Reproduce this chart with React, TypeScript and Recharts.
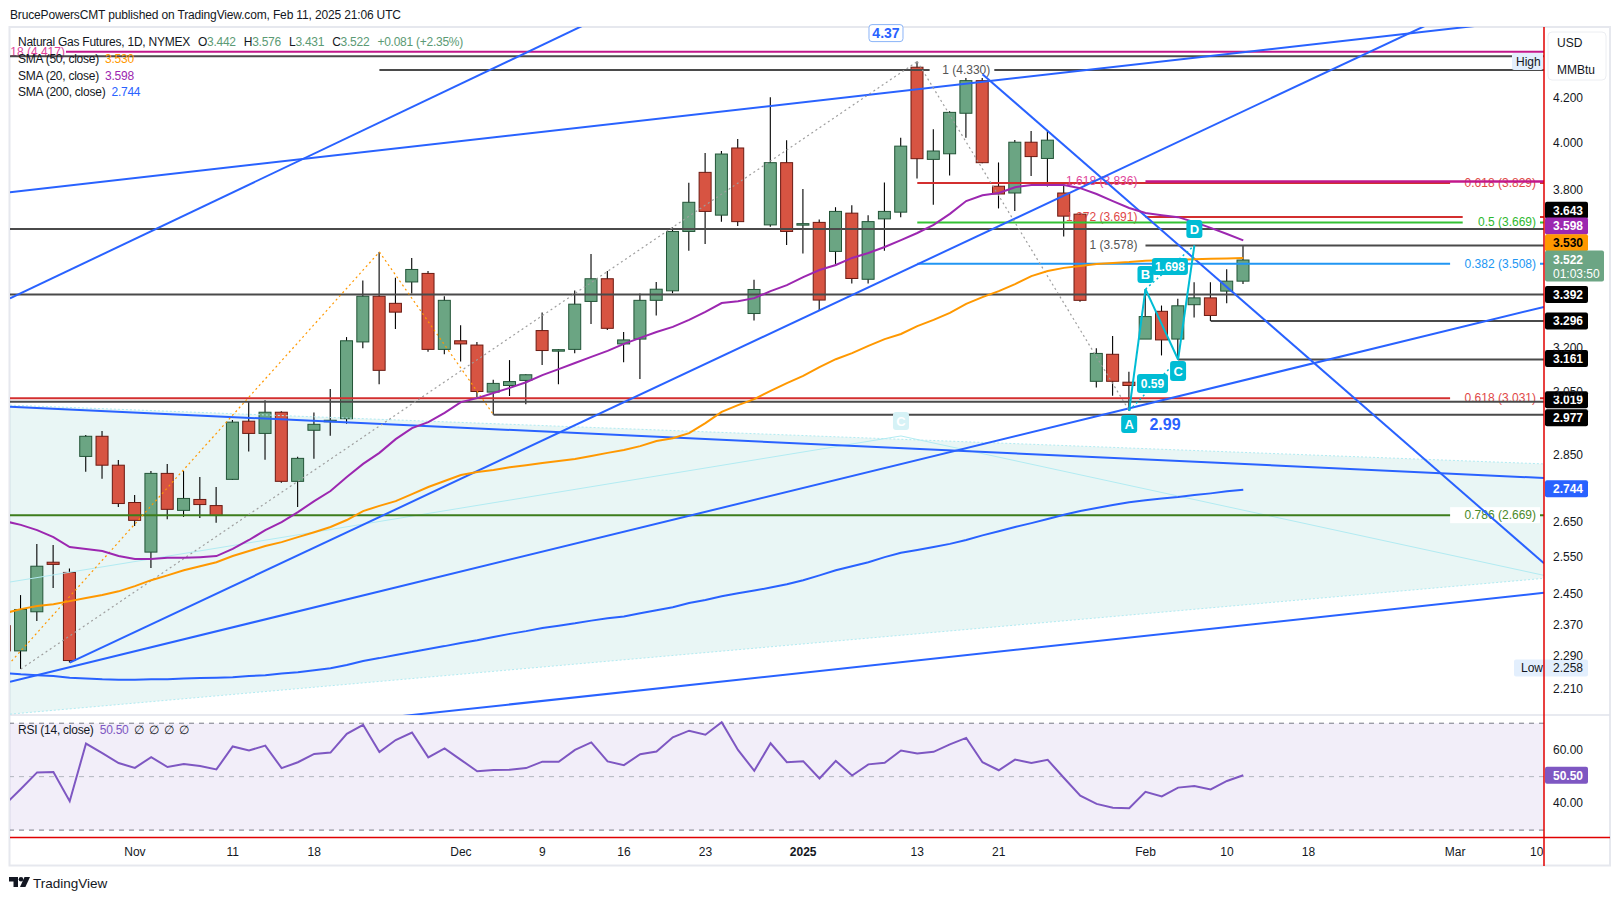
import React from "react";
import {
  ComposedChart,
  Bar,
  Line,
  Area,
  XAxis,
  YAxis,
  ReferenceLine,
  ReferenceDot,
  ReferenceArea,
} from "recharts";

const FONT = '"Liberation Sans", Arial, Helvetica, sans-serif';
const INK = "#131722";

// daily bars, trading days only
const DATES = [
  "2024-10-22", "2024-10-23", "2024-10-24", "2024-10-25", "2024-10-28", "2024-10-29", "2024-10-30", "2024-10-31",
  "2024-11-01", "2024-11-04", "2024-11-05", "2024-11-06", "2024-11-07", "2024-11-08", "2024-11-11", "2024-11-12",
  "2024-11-13", "2024-11-14", "2024-11-15", "2024-11-18", "2024-11-19", "2024-11-20", "2024-11-21", "2024-11-22",
  "2024-11-25", "2024-11-26", "2024-11-27", "2024-11-29", "2024-12-02", "2024-12-03", "2024-12-04", "2024-12-05",
  "2024-12-06", "2024-12-09", "2024-12-10", "2024-12-11", "2024-12-12", "2024-12-13", "2024-12-16", "2024-12-17",
  "2024-12-18", "2024-12-19", "2024-12-20", "2024-12-23", "2024-12-24", "2024-12-26", "2024-12-27", "2024-12-30",
  "2024-12-31", "2025-01-02", "2025-01-03", "2025-01-06", "2025-01-07", "2025-01-08", "2025-01-09", "2025-01-10",
  "2025-01-13", "2025-01-14", "2025-01-15", "2025-01-16", "2025-01-17", "2025-01-21", "2025-01-22", "2025-01-23",
  "2025-01-24", "2025-01-27", "2025-01-28", "2025-01-29", "2025-01-30", "2025-01-31", "2025-02-03", "2025-02-04",
  "2025-02-05", "2025-02-06", "2025-02-07", "2025-02-10", "2025-02-11",
];

const OPEN = [
  2.367, 2.303, 2.403, 2.536, 2.508, 2.845, 2.908, 2.818, 2.706, 2.564,
  2.793, 2.683, 2.715, 2.697, 2.775, 2.956, 2.917, 2.985, 2.769, 2.927,
  2.955, 2.964, 3.222, 3.386, 3.36, 3.439, 3.471, 3.196, 3.226, 3.211,
  3.051, 3.073, 3.09, 3.262, 3.193, 3.196, 3.367, 3.451, 3.215, 3.232,
  3.371, 3.406, 3.633, 3.874, 3.698, 3.978, 3.323, 3.659, 3.915, 3.658,
  3.669, 3.555, 3.706, 3.449, 3.683, 3.71, 4.343, 3.929, 3.953, 4.131,
  4.28, 3.816, 3.788, 4.003, 3.933, 3.788, 3.702, 3.087, 3.179, 3.084,
  3.232, 3.331, 3.232, 3.355, 3.38, 3.405, 3.442,
];
const HIGH = [
  2.4, 2.447, 2.587, 2.584, 2.519, 2.912, 2.925, 2.834, 2.728, 2.8,
  2.822, 2.8, 2.782, 2.752, 2.96, 3.018, 3.024, 2.988, 2.844, 2.984,
  3.061, 3.239, 3.444, 3.553, 3.455, 3.53, 3.48, 3.386, 3.281, 3.222,
  3.092, 3.159, 3.111, 3.327, 3.197, 3.407, 3.545, 3.48, 3.257, 3.396,
  3.439, 3.649, 3.83, 3.956, 3.965, 4.017, 3.447, 4.203, 4.012, 3.805,
  3.681, 3.73, 3.738, 3.698, 3.832, 4.022, 4.37, 4.06, 4.14, 4.328,
  4.31, 3.916, 4.013, 4.052, 4.052, 3.823, 3.705, 3.2, 3.243, 3.119,
  3.412, 3.352, 3.377, 3.438, 3.438, 3.487, 3.576,
];
const LOW = [
  2.28, 2.258, 2.379, 2.466, 2.274, 2.798, 2.777, 2.693, 2.638, 2.52,
  2.657, 2.664, 2.661, 2.647, 2.773, 2.86, 2.835, 2.765, 2.693, 2.838,
  2.91, 2.948, 3.2, 3.077, 3.268, 3.396, 3.188, 3.179, 3.154, 3.035,
  2.977, 3.038, 3.011, 3.142, 3.077, 3.183, 3.285, 3.264, 3.152, 3.095,
  3.316, 3.397, 3.558, 3.584, 3.672, 3.655, 3.298, 3.652, 3.58, 3.547,
  3.335, 3.507, 3.433, 3.433, 3.558, 3.69, 3.848, 3.74, 3.861, 4.022,
  3.913, 3.725, 3.715, 3.859, 3.815, 3.613, 3.366, 3.066, 3.039, 2.99,
  3.232, 3.175, 3.161, 3.309, 3.296, 3.36, 3.431,
];
const CLOSE = [
  2.303, 2.409, 2.525, 2.53, 2.279, 2.908, 2.818, 2.703, 2.654, 2.793,
  2.686, 2.718, 2.7, 2.668, 2.953, 2.917, 2.985, 2.769, 2.839, 2.946,
  2.959, 3.226, 3.386, 3.124, 3.328, 3.486, 3.196, 3.371, 3.215, 3.053,
  3.08, 3.086, 3.109, 3.192, 3.195, 3.357, 3.451, 3.27, 3.229, 3.371,
  3.412, 3.633, 3.75, 3.713, 3.952, 3.672, 3.411, 3.915, 3.633, 3.664,
  3.372, 3.713, 3.452, 3.672, 3.713, 3.986, 3.932, 3.965, 4.135, 4.28,
  3.915, 3.784, 4.003, 3.941, 4.012, 3.694, 3.371, 3.182, 3.087, 3.073,
  3.312, 3.229, 3.351, 3.38, 3.316, 3.442, 3.522,
];
const SMA20 = [
  2.652, 2.641, 2.626, 2.606, 2.578, 2.573, 2.567, 2.553, 2.545, 2.545,
  2.548, 2.548, 2.55, 2.553, 2.573, 2.598, 2.626, 2.649, 2.678, 2.71,
  2.74, 2.782, 2.822, 2.856, 2.899, 2.934, 2.953, 2.983, 3.018, 3.031,
  3.048, 3.065, 3.084, 3.108, 3.128, 3.149, 3.17, 3.191, 3.215, 3.236,
  3.257, 3.275, 3.3, 3.329, 3.361, 3.368, 3.379, 3.405, 3.427, 3.457,
  3.484, 3.503, 3.53, 3.549, 3.572, 3.599, 3.627, 3.659, 3.703, 3.755,
  3.779, 3.788, 3.812, 3.821, 3.821, 3.821, 3.808, 3.784, 3.755, 3.727,
  3.707, 3.698, 3.69, 3.67, 3.647, 3.623, 3.598,
];
const SMA50 = [
  2.399, 2.41, 2.418, 2.423, 2.431, 2.439, 2.447, 2.457, 2.471, 2.487,
  2.5, 2.514, 2.525, 2.536, 2.553, 2.567, 2.581, 2.592, 2.606, 2.62,
  2.635, 2.655, 2.681, 2.696, 2.71, 2.731, 2.752, 2.77, 2.788, 2.797,
  2.803, 2.812, 2.818, 2.825, 2.831, 2.837, 2.846, 2.856, 2.865, 2.877,
  2.893, 2.902, 2.918, 2.95, 2.986, 3.008, 3.028, 3.055, 3.081, 3.105,
  3.135, 3.162, 3.183, 3.208, 3.232, 3.25, 3.278, 3.3, 3.325, 3.358,
  3.383, 3.405, 3.431, 3.461, 3.48, 3.492, 3.499, 3.507, 3.511, 3.514,
  3.519, 3.521, 3.523, 3.525, 3.527, 3.528, 3.53,
];
const SMA200 = [
  2.248, 2.245, 2.243, 2.241, 2.237, 2.235, 2.233, 2.232, 2.232, 2.233,
  2.233, 2.235, 2.236, 2.237, 2.238, 2.241, 2.243, 2.247, 2.25, 2.255,
  2.26, 2.268, 2.278, 2.285, 2.293, 2.3, 2.308, 2.315, 2.323, 2.33,
  2.338, 2.346, 2.353, 2.361, 2.367, 2.373, 2.38, 2.386, 2.391, 2.399,
  2.407, 2.415, 2.426, 2.434, 2.444, 2.452, 2.459, 2.467, 2.476, 2.487,
  2.5, 2.514, 2.525, 2.536, 2.55, 2.562, 2.57, 2.578, 2.587, 2.598,
  2.611, 2.623, 2.635, 2.646, 2.658, 2.67, 2.681, 2.69, 2.699, 2.707,
  2.713, 2.718, 2.722, 2.728, 2.733, 2.739, 2.744,
];
const RSI = [
  39.4, 45.4, 51.6, 51.7, 40.8, 62.4, 58.8, 55.1, 53.3, 57.3,
  53.6, 54.7, 54.0, 52.7, 61.3, 59.8, 61.6, 53.2, 55.4, 58.5,
  59.0, 66.0, 69.4, 59.2, 63.7, 66.5, 57.2, 60.6, 56.3, 52.0,
  52.5, 52.6, 53.2, 55.6, 55.6, 60.0, 62.8, 55.7, 54.3, 58.4,
  59.4, 64.7, 67.2, 65.7, 70.4, 60.0, 52.2, 62.5, 55.4, 55.8,
  49.3, 55.9, 50.4, 54.6, 55.2, 59.8, 58.7, 59.3, 62.1, 64.5,
  55.4, 52.4, 56.4, 55.1, 56.3, 49.5, 42.9, 39.8, 38.4, 38.2,
  44.3, 42.6, 45.9, 46.5, 45.2, 48.4, 50.5,
];

const X_TICKS = [8, 14, 19, 28, 33, 38, 43, 49, 56, 61, 70, 75, 80, 89, 94];
const X_LABELS = ["Nov", "11", "18", "Dec", "9", "16", "23", "2025", "13", "21", "Feb", "10", "18", "Mar", "10"];
const PRICE_TICKS = [2.21, 2.29, 2.37, 2.45, 2.55, 2.65, 2.85, 3.05, 3.2, 3.8, 4.0, 4.2];
const RSI_TICKS = [40, 60];

// visible window (bar index) and price range of the main pane
const X_MIN = 0.337;
const X_MAX = 94.45;
const P_MIN = 2.148;
const P_MAX = 4.537;
const PLOT_LEFT = 10;

// triangle shading edges: [x, low, high]
const SHADE_X = [X_MIN, X_MAX];
const SHADE_LOW = [2.15, 2.492];
const SHADE_HIGH = [3.008, 2.822];

const candles = DATES.map((d, i) => ({
  i,
  date: d,
  open: OPEN[i],
  high: HIGH[i],
  low: LOW[i],
  close: CLOSE[i],
  range: [LOW[i], HIGH[i]],
  sma20: SMA20[i],
  sma50: SMA50[i],
  sma200: SMA200[i],
}));
const rsiData = DATES.map((d, i) => ({ i, date: d, rsi: RSI[i] }));
const shade = SHADE_X.map((x, k) => ({ i: x, band: [SHADE_LOW[k], SHADE_HIGH[k]] }));

const UP_FILL = "#6ba583";
const UP_EDGE = "#225437";
const DN_FILL = "#d75442";
const DN_EDGE = "#6b1a12";
const TREND = "#2962ff";
const DARK = "#4a4a4a";
const RED = "#d32f2f";
const MAGENTA = "#c2188b";
const CYAN = "#00bcd4";

// blue trend lines [x1, p1, x2, p2]
const TRENDS = [
  [X_MIN, 3.791, X_MAX, 4.581],
  [X_MIN, 3.378, 36.53, 4.584],
  [4, 2.274, X_MAX, 4.827],
  [X_MIN, 2.227, X_MAX, 3.347],
  [18.13, 2.12, X_MAX, 2.453],
  [60, 4.31, X_MAX, 2.533],
  [X_MIN, 3.003, X_MAX, 2.779],
];

const LEVELS = [
  { p: 4.417, from: 3.77, color: MAGENTA, w: 2, text: "1.618 (4.417)", tc: "#e0449a", pos: "before", gap: 1 },
  { p: 4.395, from: X_MIN, color: DARK, w: 2 },
  { p: 4.33, from: 23, color: DARK, w: 2, text: "1 (4.330)", tc: "#555", pos: "at", at: 58.74 },
  { p: 3.829, from: 56, color: RED, w: 2, text: "0.618 (3.829)", tc: "#e04848", pos: "right" },
  { p: 3.836, from: 70, color: MAGENTA, w: 2.5, text: "1.618 (3.836)", tc: "#e0449a", pos: "before", gap: 8 },
  { p: 3.691, from: 70, color: RED, w: 2, text: "1.272 (3.691)", tc: "#e04848", pos: "before", gap: 8 },
  { p: 3.669, from: 56, color: "#34c234", w: 2, text: "0.5 (3.669)", tc: "#2eb82e", pos: "right" },
  { p: 3.643, from: X_MIN, color: DARK, w: 2 },
  { p: 3.578, from: 70, color: DARK, w: 2, text: "1 (3.578)", tc: "#555", pos: "before", gap: 8 },
  { p: 3.508, from: 56, color: "#2196f3", w: 2, text: "0.382 (3.508)", tc: "#2196f3", pos: "right" },
  { p: 3.392, from: X_MIN, color: DARK, w: 2 },
  { p: 3.296, from: 74, color: DARK, w: 2 },
  { p: 3.161, from: 72, color: DARK, w: 2 },
  { p: 3.031, from: X_MIN, color: RED, w: 2, text: "0.618 (3.031)", tc: "#e04848", pos: "right" },
  { p: 3.019, from: X_MIN, color: DARK, w: 2 },
  { p: 2.977, from: 30, color: DARK, w: 2 },
  { p: 2.669, from: X_MIN, color: "#3d7d1c", w: 2, text: "0.786 (2.669)", tc: "#4a8a2a", pos: "right" },
];

const BADGES = [
  { p: 3.643, text: "3.643", bg: "#000", fg: "#fff", dy: -18.7 },
  { p: 3.598, text: "3.598", bg: "#9c27b0", fg: "#fff", dy: -14.4 },
  { p: 3.53, text: "3.530", bg: "#ff9800", fg: "#000", dy: -15.2 },
  { p: 3.392, text: "3.392", bg: "#000", fg: "#fff", dy: 0 },
  { p: 3.296, text: "3.296", bg: "#000", fg: "#fff", dy: 0 },
  { p: 3.161, text: "3.161", bg: "#000", fg: "#fff", dy: -1 },
  { p: 3.019, text: "3.019", bg: "#000", fg: "#fff", dy: -2 },
  { p: 2.977, text: "2.977", bg: "#000", fg: "#fff", dy: 3 },
  { p: 2.744, text: "2.744", bg: "#2962ff", fg: "#fff", dy: -1 },
];

const lbl = (render: (vb: any) => any) => (props: any) => render(props.viewBox || {});

function Candle(props: any) {
  const { x, y, width, height, payload } = props;
  if (!payload || x == null || y == null) return null;
  const top = Math.min(y, y + height);
  const bot = Math.max(y, y + height);
  const lh = Math.log(payload.high);
  const span = lh - Math.log(payload.low);
  const at = (p: number) => (span > 0 ? top + ((lh - Math.log(p)) / span) * (bot - top) : top);
  const cx = x + width / 2;
  const up = payload.close >= payload.open;
  const y1 = at(Math.max(payload.open, payload.close));
  const y2 = at(Math.min(payload.open, payload.close));
  return (
    <g>
      <line x1={cx} x2={cx} y1={top} y2={bot} stroke="#000" strokeWidth={1.1} />
      <rect
        x={cx - 6}
        y={y1}
        width={12}
        height={Math.max(1.5, y2 - y1)}
        fill={up ? UP_FILL : DN_FILL}
        stroke={up ? UP_EDGE : DN_EDGE}
        strokeWidth={1}
      />
    </g>
  );
}

function PriceTick(props: any) {
  const { x, y, payload } = props;
  return (
    <text x={x} y={y} dy={4} fontSize={12} fill={INK} textAnchor="start" fontFamily={FONT}>
      {Number(payload.value).toFixed(3)}
    </text>
  );
}

function RsiTick(props: any) {
  const { x, y, payload } = props;
  return (
    <text x={x} y={y} dy={4} fontSize={12} fill={INK} textAnchor="start" fontFamily={FONT}>
      {Number(payload.value).toFixed(2)}
    </text>
  );
}

function DateTick(props: any) {
  const { x, y, payload } = props;
  const k = X_TICKS.indexOf(payload.value);
  const t = X_LABELS[k] ?? "";
  return (
    <text x={x} y={y + 19} fontSize={12} fill={INK} textAnchor="middle" fontWeight={t === "2025" ? 700 : 400} fontFamily={FONT}>
      {t}
    </text>
  );
}

function levelLabel(l: any, vb: any, k: number) {
  const w = l.text.length * 6.3 + 8;
  let x2 = vb.x - (l.gap ?? 8);
  if (l.pos === "right") x2 = vb.x + vb.width - 8;
  if (l.pos === "at") x2 = vb.x + ((l.at - l.from) / (X_MAX - l.from)) * vb.width + w / 2 - 4;
  const clipId = `lvclip${k}`;
  return (
    <g>
      <defs>
        <clipPath id={clipId}>
          <rect x={PLOT_LEFT} y={vb.y - 12} width={1600} height={24} />
        </clipPath>
      </defs>
      {l.pos !== "before" && <rect x={x2 - w + 4} y={vb.y - 8} width={w} height={16} fill="#fff" />}
      <text x={x2} y={vb.y + 4} textAnchor="end" fontSize={12} fill={l.tc} fontFamily={FONT} clipPath={`url(#${clipId})`}>
        {l.text}
      </text>
    </g>
  );
}

function badge(b: any, vb: any) {
  const x = vb.x + vb.width + 1;
  const cy = vb.y + b.dy;
  return (
    <g>
      <rect x={x} y={cy - 8.5} width={43} height={17} fill={b.bg} rx={2} />
      <text x={x + 8} y={cy + 4.3} fontSize={12} fontWeight={700} fill={b.fg} fontFamily={FONT}>
        {b.text}
      </text>
    </g>
  );
}

function tagBox(text: string, vb: any, w: number, h: number, bg: string, fg: string, size: number, border?: string) {
  const cx = vb.x + (vb.width || 0) / 2;
  const cy = vb.y + (vb.height || 0) / 2;
  return (
    <g>
      <rect x={cx - w / 2} y={cy - h / 2} width={w} height={h} rx={3} fill={bg} stroke={border || "none"} />
      <text x={cx} y={cy + size * 0.36} textAnchor="middle" fontSize={size} fontWeight={700} fill={fg} fontFamily={FONT}>
        {text}
      </text>
    </g>
  );
}

const seg = (x1: number, p1: number, x2: number, p2: number) => [
  { x: x1, y: p1 },
  { x: x2, y: p2 },
];

export default function App() {
  const legendRow: React.CSSProperties = { height: 16.8, whiteSpace: "nowrap" };
  const tight: React.CSSProperties = { fontSize: 12, letterSpacing: "-0.25px" };
  const up = "#5b9a74";
  return (
    <div
      style={{
        position: "absolute",
        left: 0,
        top: 0,
        width: 1620,
        height: 901,
        background: "#fff",
        fontFamily: FONT,
        color: INK,
        overflow: "hidden",
      }}
    >
      <svg width={1620} height={901} style={{ position: "absolute", left: 0, top: 0 }}>
        <rect x={9.5} y={27} width={1600.5} height={838.5} fill="none" stroke="#e6e8ee" strokeWidth={2} />
        <line x1={10} x2={1610} y1={715} y2={715} stroke="#e0e3eb" strokeWidth={1.5} />
      </svg>

      <div style={{ position: "absolute", left: 0, top: 0 }}>
        <ComposedChart width={1620} height={901} data={candles} margin={{ top: 27, right: 0, bottom: 186, left: PLOT_LEFT }}>
          <XAxis type="number" dataKey="i" domain={[X_MIN, X_MAX]} allowDataOverflow hide />
          <YAxis
            orientation="right"
            scale="log"
            domain={[P_MIN, P_MAX]}
            allowDataOverflow
            ticks={PRICE_TICKS}
            interval={0}
            width={76}
            axisLine={false}
            tickLine={false}
            tickSize={0}
            tickMargin={9}
            tick={<PriceTick />}
          />
          <Area
            data={shade}
            dataKey="band"
            type="linear"
            stroke="none"
            fill="#26a69a"
            fillOpacity={0.1}
            isAnimationActive={false}
          />
          <ReferenceLine segment={seg(X_MIN, SHADE_HIGH[0], X_MAX, SHADE_HIGH[1])} stroke="#b2ebf2" strokeDasharray="2 2" ifOverflow="hidden" />
          <ReferenceLine segment={seg(X_MIN, SHADE_LOW[0], X_MAX, SHADE_LOW[1])} stroke="#b2ebf2" strokeDasharray="2 2" ifOverflow="hidden" />
          <ReferenceLine segment={seg(X_MIN, 2.482, 55, 2.909)} stroke="#b2ebf2" strokeWidth={1} ifOverflow="hidden" />
          <ReferenceLine segment={seg(55, 2.909, X_MAX, 2.5)} stroke="#b2ebf2" strokeWidth={1} ifOverflow="hidden" />

          {LEVELS.map((l, k) => (
            <ReferenceLine
              key={`lv${k}`}
              segment={seg(l.from, l.p, X_MAX, l.p)}
              stroke={l.color}
              strokeWidth={l.w}
              ifOverflow="hidden"
              label={l.text ? lbl((vb) => levelLabel(l, vb, k)) : undefined}
            />
          ))}

          {TRENDS.map((t, k) => (
            <ReferenceLine key={`tr${k}`} segment={seg(t[0], t[1], t[2], t[3])} stroke={TREND} strokeWidth={2} ifOverflow="hidden" />
          ))}

          <ReferenceLine segment={seg(1, 2.258, 56, 4.37)} stroke="#9e9e9e" strokeWidth={1.2} strokeDasharray="2 3" ifOverflow="hidden" />
          <ReferenceLine segment={seg(56, 4.37, 69, 2.99)} stroke="#9e9e9e" strokeWidth={1.2} strokeDasharray="2 3" ifOverflow="hidden" />
          <ReferenceLine segment={seg(-1, 2.214, 23, 3.553)} stroke="#ff9800" strokeWidth={1.2} strokeDasharray="2 3" ifOverflow="hidden" />
          <ReferenceLine segment={seg(23, 3.553, 30, 2.977)} stroke="#ff9800" strokeWidth={1.2} strokeDasharray="2 3" ifOverflow="hidden" />

          <Line dataKey="sma200" stroke="#2962ff" strokeWidth={2} dot={false} isAnimationActive={false} />
          <Line dataKey="sma50" stroke="#ff9800" strokeWidth={2} dot={false} isAnimationActive={false} />
          <Line dataKey="sma20" stroke="#9c27b0" strokeWidth={2} dot={false} isAnimationActive={false} />

          <Bar dataKey="range" barSize={12} isAnimationActive={false} shape={(p: any) => <Candle {...p} />} />

          <ReferenceLine segment={seg(69, 2.99, 70, 3.412)} stroke={CYAN} strokeWidth={2} ifOverflow="hidden" />
          <ReferenceLine segment={seg(70, 3.412, 72, 3.161)} stroke={CYAN} strokeWidth={2} ifOverflow="hidden" />
          <ReferenceLine segment={seg(72, 3.161, 73, 3.578)} stroke={CYAN} strokeWidth={2} ifOverflow="hidden" />
          <ReferenceLine segment={seg(69, 2.99, 72, 3.161)} stroke={CYAN} strokeWidth={1.5} strokeDasharray="2 3" ifOverflow="hidden" />
          <ReferenceLine segment={seg(70, 3.412, 73, 3.578)} stroke={CYAN} strokeWidth={1.5} strokeDasharray="2 3" ifOverflow="hidden" />

          <ReferenceDot x={55} y={2.957} r={1} fill="none" stroke="none" ifOverflow="visible"
            label={lbl((vb) => tagBox("C", vb, 16, 18, "#d6f2f6", "#fff", 13))} />
          <ReferenceDot x={54.08} y={4.507} r={1} fill="none" stroke="none" ifOverflow="visible"
            label={lbl((vb) => tagBox("4.37", vb, 34, 17, "#fff", "#2962ff", 14, "#8ab4f8"))} />
          <ReferenceDot x={71.2} y={2.947} r={1} fill="none" stroke="none" ifOverflow="visible"
            label={lbl((vb) => tagBox("2.99", vb, 40, 18, "none", "#2962ff", 16))} />
          <ReferenceDot x={69} y={2.947} r={1} fill="none" stroke="none" ifOverflow="visible"
            label={lbl((vb) => tagBox("A", vb, 16, 18, CYAN, "#fff", 13))} />
          <ReferenceDot x={70} y={3.467} r={1} fill="none" stroke="none" ifOverflow="visible"
            label={lbl((vb) => tagBox("B", vb, 16, 17, CYAN, "#fff", 13))} />
          <ReferenceDot x={72} y={3.122} r={1} fill="none" stroke="none" ifOverflow="visible"
            label={lbl((vb) => tagBox("C", vb, 16, 20, CYAN, "#fff", 13))} />
          <ReferenceDot x={73} y={3.643} r={1} fill="none" stroke="none" ifOverflow="visible"
            label={lbl((vb) => tagBox("D", vb, 16, 18, CYAN, "#fff", 13))} />
          <ReferenceDot x={70.43} y={3.08} r={1} fill="none" stroke="none" ifOverflow="visible"
            label={lbl((vb) => tagBox("0.59", vb, 31, 19, CYAN, "#fff", 12))} />
          <ReferenceDot x={71.5} y={3.497} r={1} fill="none" stroke="none" ifOverflow="visible"
            label={lbl((vb) => tagBox("1.698", vb, 36, 17, CYAN, "#fff", 12))} />

          {BADGES.map((b, k) => (
            <ReferenceLine key={`bd${k}`} y={b.p} stroke="none" label={lbl((vb) => badge(b, vb))} />
          ))}
          <ReferenceLine
            y={3.522}
            stroke="none"
            label={lbl((vb) => {
              const x = vb.x + vb.width + 1;
              return (
                <g>
                  <rect x={x} y={vb.y - 9.5} width={59} height={31} fill="#6ca584" rx={2} />
                  <text x={x + 8} y={vb.y + 3.8} fontSize={12} fontWeight={700} fill="#fff" fontFamily={FONT}>3.522</text>
                  <text x={x + 8} y={vb.y + 18} fontSize={12} fill="#fff" fontFamily={FONT}>01:03:50</text>
                </g>
              );
            })}
          />
          <ReferenceLine
            y={2.258}
            stroke="none"
            label={lbl((vb) => {
              const x = vb.x + vb.width;
              return (
                <g>
                  <rect x={x - 30} y={vb.y - 9.5} width={74} height={17} fill="#e3effd" rx={2} />
                  <text x={x - 23} y={vb.y + 3.3} fontSize={12} fill={INK} fontFamily={FONT}>Low</text>
                  <text x={x + 9} y={vb.y + 3.3} fontSize={12} fill={INK} fontFamily={FONT}>2.258</text>
                </g>
              );
            })}
          />
          <ReferenceLine
            y={4.37}
            stroke="none"
            label={lbl((vb) => {
              const x = vb.x + vb.width;
              return (
                <g>
                  <rect x={x - 32} y={vb.y - 8.5} width={31} height={17} fill="#e3effd" rx={2} />
                  <text x={x - 28} y={vb.y + 4} fontSize={12} fill={INK} fontFamily={FONT}>High</text>
                </g>
              );
            })}
          />
        </ComposedChart>
      </div>

      <div style={{ position: "absolute", left: 0, top: 0 }}>
        <ComposedChart width={1620} height={901} data={rsiData} margin={{ top: 715, right: 0, bottom: 36, left: PLOT_LEFT }}>
          <XAxis
            type="number"
            dataKey="i"
            domain={[X_MIN, X_MAX]}
            allowDataOverflow
            ticks={X_TICKS}
            interval={0}
            height={28}
            axisLine={false}
            tickLine={false}
            tickSize={0}
            tickMargin={0}
            tick={<DateTick />}
          />
          <YAxis
            orientation="right"
            domain={[27.42, 73.07]}
            allowDataOverflow
            ticks={RSI_TICKS}
            interval={0}
            width={76}
            axisLine={false}
            tickLine={false}
            tickSize={0}
            tickMargin={9}
            tick={<RsiTick />}
          />
          <ReferenceArea y1={30} y2={70} fill="#7e57c2" fillOpacity={0.1} stroke="none" />
          <ReferenceLine y={70} stroke="#787b86" strokeDasharray="5 5" />
          <ReferenceLine y={50} stroke="#b2b5be" strokeDasharray="5 5" />
          <ReferenceLine y={30} stroke="#787b86" strokeDasharray="5 5" />
          <Line dataKey="rsi" stroke="#7e57c2" strokeWidth={2} dot={false} isAnimationActive={false} />
          <ReferenceLine
            y={50.5}
            stroke="none"
            label={lbl((vb) => badge({ text: "50.50", bg: "#7e57c2", fg: "#fff", dy: 0 }, vb))}
          />
        </ComposedChart>
      </div>

      <svg width={1620} height={901} style={{ position: "absolute", left: 0, top: 0, pointerEvents: "none" }}>
        <line x1={1544} x2={1544} y1={27} y2={866} stroke="#e00000" strokeWidth={1.5} />
        <line x1={10} x2={1610} y1={837.5} y2={837.5} stroke="#e00000" strokeWidth={1.5} />
        <rect x={1548} y={32} width={58} height={48} rx={4} fill="#fff" stroke="#eceef2" />
        <text x={1557} y={47} fontSize={12} fill={INK} fontFamily={FONT}>USD</text>
        <text x={1557} y={74} fontSize={12} fill={INK} fontFamily={FONT}>MMBtu</text>
        <path d="M9 877 h9 v10 h-4.5 v-5.5 h-4.5 z" fill="#131722" />
        <circle cx={21} cy={879.3} r={2.3} fill="#131722" />
        <path d="M24.5 877 h5.5 l-4.6 10 h-5.4 z" fill="#131722" />
        <text x={33} y={888} fontSize={13.5} fill={INK} fontFamily={FONT}>TradingView</text>
      </svg>

      <div style={{ position: "absolute", left: 10, top: 8, fontSize: 12, letterSpacing: "-0.15px", whiteSpace: "nowrap" }}>
        BrucePowersCMT published on TradingView.com, Feb 11, 2025 21:06 UTC
      </div>

      <div style={{ position: "absolute", left: 18, top: 34, lineHeight: "16.8px", ...tight }}>
        <div style={legendRow}>
          <span>Natural Gas Futures, 1D, NYMEX</span>
          <span style={{ marginLeft: 8 }}>O</span>
          <span style={{ color: up }}>3.442</span>
          <span style={{ marginLeft: 8 }}>H</span>
          <span style={{ color: up }}>3.576</span>
          <span style={{ marginLeft: 8 }}>L</span>
          <span style={{ color: up }}>3.431</span>
          <span style={{ marginLeft: 8 }}>C</span>
          <span style={{ color: up }}>3.522</span>
          <span style={{ marginLeft: 8, color: up }}>+0.081 (+2.35%)</span>
        </div>
        <div style={legendRow}>
          SMA (50, close) <span style={{ marginLeft: 3, color: "#ff9800" }}>3.530</span>
        </div>
        <div style={legendRow}>
          SMA (20, close) <span style={{ marginLeft: 3, color: "#9c27b0" }}>3.598</span>
        </div>
        <div style={legendRow}>
          SMA (200, close) <span style={{ marginLeft: 3, color: "#2962ff" }}>2.744</span>
        </div>
      </div>

      <div style={{ position: "absolute", left: 18, top: 723, whiteSpace: "nowrap", ...tight }}>
        RSI (14, close) <span style={{ marginLeft: 3, color: "#7e57c2" }}>50.50</span>
        <span style={{ marginLeft: 6 }}>∅</span>
        <span style={{ marginLeft: 5 }}>∅</span>
        <span style={{ marginLeft: 5 }}>∅</span>
        <span style={{ marginLeft: 5 }}>∅</span>
      </div>
    </div>
  );
}
